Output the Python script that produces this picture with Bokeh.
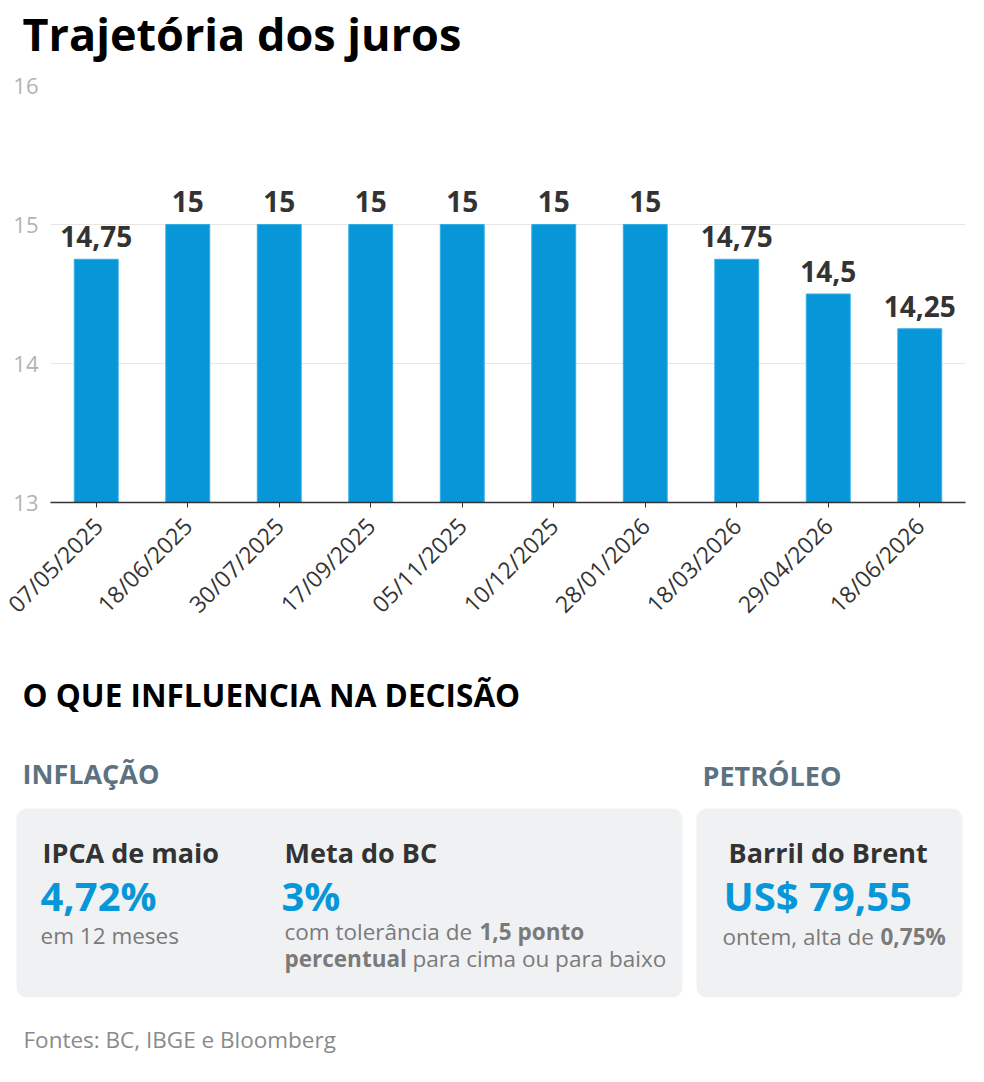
import math

from bokeh.core.properties import value
from bokeh.embed import file_html
from bokeh.layouts import column
from bokeh.models import BoxAnnotation, FactorRange, FixedTicker, Range1d
from bokeh.plotting import figure
from bokeh.resources import INLINE

# Selic decisions: meeting dates and the rate (% a.a.)
dates = ["07/05/2025", "18/06/2025", "30/07/2025", "17/09/2025", "05/11/2025",
         "10/12/2025", "28/01/2026", "18/03/2026", "29/04/2026", "18/06/2026"]
rates = [14.75, 15, 15, 15, 15, 15, 15, 14.75, 14.5, 14.25]
y_ticks = [13, 14, 15, 16]

# Indicator panel values
ipca_value = "4,72%"
meta_value = "3%"
brent_value = "US$ 79,55"
brent_change = "0,75%"

BLUE = "#0797d8"
DARK = "#333333"
GRAY = "#7a7a7a"
SECTION = "#5d7280"
CARD = "#f0f1f3"
FONT = "Open Sans"
W = 984
LIFT = 0.38  # baseline correction for the svg text renderer, in em


def fmt(v):
    return f"{v:g}".replace(".", ",")


def blank(height, y_top, y_bottom):
    """A figure whose data units are page pixels (y grows downward)."""
    f = figure(width=W, height=height, x_range=Range1d(0, W),
               y_range=Range1d(y_bottom, y_top), x_axis_type=None,
               y_axis_type=None, toolbar_location=None, output_backend="svg",
               min_border=0, frame_align=False)
    f.outline_line_color = None
    f.grid.visible = False
    return f


def put(f, x, y, s, size, color, bold=False, align="left"):
    f.text(x=[x], y=[y - LIFT * size], text=[s], text_font=value(FONT),
           text_font_size=f"{size}px", text_color=color,
           text_font_style="bold" if bold else "normal",
           text_align=align, text_baseline="alphabetic")


# --- heading -------------------------------------------------------------
head = blank(70, 0, 70)
put(head, 22, 50, "Trajetória dos juros", 45, "#000000", bold=True)

# --- bar chart -----------------------------------------------------------
chart = figure(width=W, height=580, x_range=FactorRange(*dates),
               y_range=Range1d(13, 16), toolbar_location=None,
               output_backend="svg", min_border_left=50, min_border_right=19,
               min_border_top=15, min_border_bottom=148, frame_align=False)
chart.outline_line_color = None
chart.xgrid.visible = False
chart.ygrid.ticker = FixedTicker(ticks=y_ticks)
chart.ygrid.grid_line_color = "#e6e6e6"
chart.ygrid.grid_line_width = 1

chart.vbar(x=dates, top=rates, bottom=13, width=0.48, fill_color=BLUE,
           line_color="#35aee6", line_width=1)

chart.text(x=dates, y=rates, text=[fmt(v) for v in rates],
           text_font=value(FONT), text_font_size="28px",
           text_font_style="bold", text_color=DARK, text_align="center",
           text_baseline="alphabetic", y_offset=-12 - LIFT * 28)

yax = chart.yaxis[0]
yax.ticker = FixedTicker(ticks=y_ticks)
yax.axis_line_color = None
yax.major_tick_line_color = None
yax.minor_tick_line_color = None
yax.major_tick_in = 0
yax.major_tick_out = 0
yax.minor_tick_out = 0
yax.major_label_standoff = 12
yax.major_label_text_font = FONT
yax.major_label_text_font_size = "22px"
yax.major_label_text_color = "#b3b3b3"
yax.major_label_text_baseline = "top"

xax = chart.xaxis[0]
xax.axis_line_color = DARK
xax.axis_line_width = 1.5
xax.major_tick_line_color = DARK
xax.major_tick_in = 0
xax.major_tick_out = 5
xax.major_label_orientation = math.pi / 4
xax.major_label_standoff = 14
xax.major_label_text_font = FONT
xax.major_label_text_font_size = "23px"
xax.major_label_text_color = DARK

# --- indicator panel -----------------------------------------------------
info = blank(432, 650, 1082)
put(info, 22, 706, "O QUE INFLUENCIA NA DECISÃO", 31.5, "#000000", bold=True)
put(info, 22, 783, "INFLAÇÃO", 27, SECTION, bold=True)
put(info, 702, 785, "PETRÓLEO", 27, SECTION, bold=True)

for left, right in [(16, 682), (696, 962)]:
    info.add_layout(BoxAnnotation(left=left, right=right, top=808, bottom=997,
                                  fill_color=CARD, fill_alpha=1,
                                  line_color=None, border_radius=10,
                                  level="underlay"))

put(info, 42, 862, "IPCA de maio", 27, DARK, bold=True)
put(info, 40, 910, ipca_value, 40, BLUE, bold=True)
put(info, 40, 944, "em 12 meses", 22.5, GRAY)

put(info, 284, 862, "Meta do BC", 27, DARK, bold=True)
put(info, 281, 910, meta_value, 40, BLUE, bold=True)
put(info, 284, 940, "com tolerância de", 22.5, GRAY)
put(info, 479, 940, "1,5 ponto", 22.5, GRAY, bold=True)
put(info, 284, 967, "percentual", 22.5, GRAY, bold=True)
put(info, 412, 967, "para cima ou para baixo", 22.5, GRAY)

put(info, 728, 862, "Barril do Brent", 27, DARK, bold=True)
put(info, 723, 910, brent_value, 40, BLUE, bold=True)
put(info, 722, 945, "ontem, alta de", 22.5, GRAY)
put(info, 880, 945, brent_change, 22.5, GRAY, bold=True)

put(info, 23, 1048, "Fontes: BC, IBGE e Bloomberg", 22.5, "#8a8a8a")

layout = column(head, chart, info, spacing=0)
open("out.html", "w").write(file_html(layout, INLINE))
